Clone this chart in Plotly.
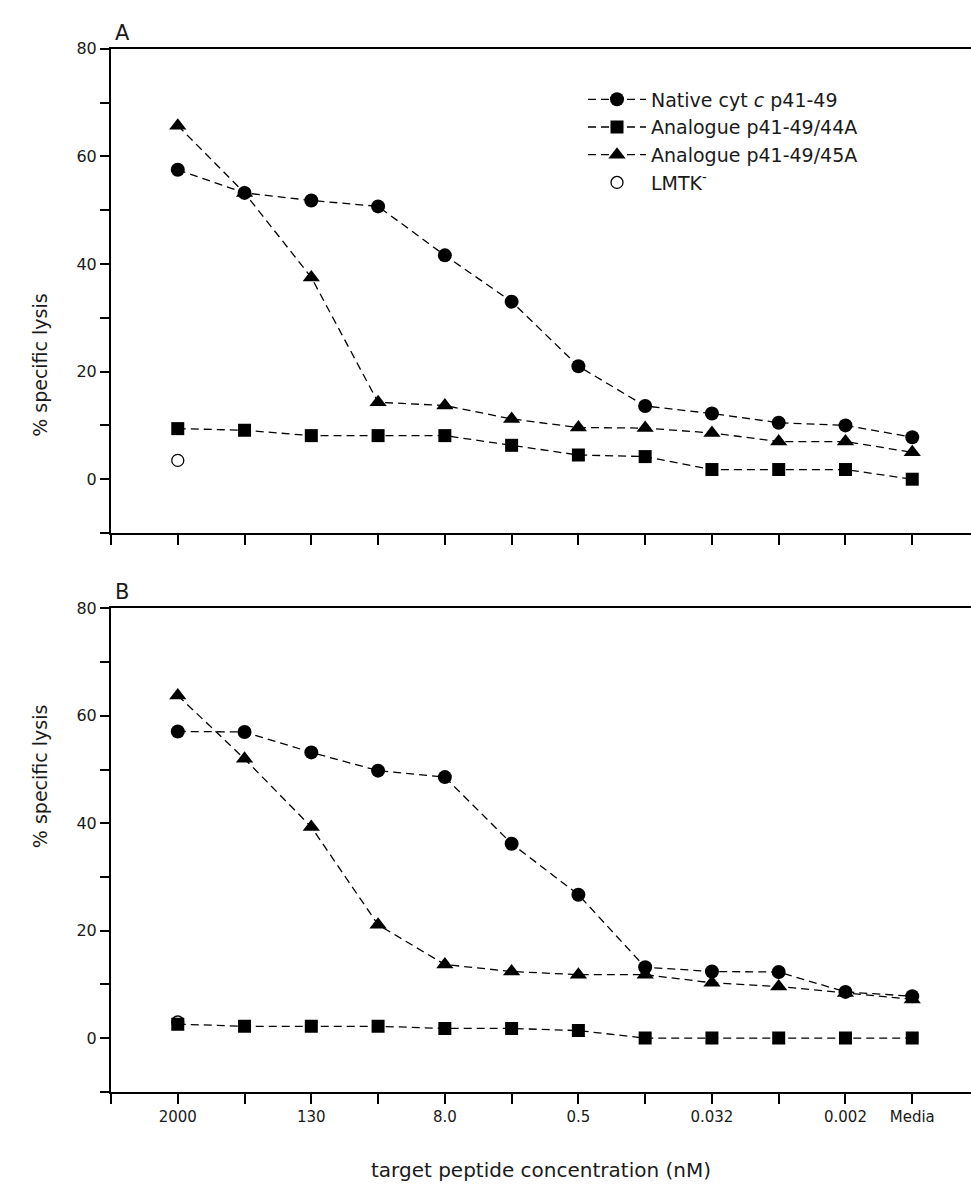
import plotly.graph_objects as go

# Categories (4-fold dilutions of target peptide, nM)
categories = ["2000", "500", "130", "32", "8.0", "2.0", "0.5", "0.12", "0.032", "0.008", "0.002", "Media"]
labelled_idx = [0, 2, 4, 6, 8, 10, 11]
y_ticks = [0, 20, 40, 60, 80]

# Panel A
a_native = [57.5, 53.2, 51.8, 50.7, 41.6, 33.0, 21.0, 13.6, 12.2, 10.5, 10.0, 7.8]
a_44A = [9.4, 9.1, 8.1, 8.1, 8.1, 6.3, 4.5, 4.2, 1.8, 1.8, 1.8, 0.0]
a_45A = [65.7, 53.2, 37.5, 14.3, 13.7, 11.2, 9.6, 9.5, 8.6, 7.0, 7.0, 5.0]
a_lmtk = [3.5]

# Panel B
b_native = [57.1, 57.0, 53.2, 49.8, 48.6, 36.2, 26.7, 13.2, 12.4, 12.3, 8.6, 7.8]
b_44A = [2.6, 2.2, 2.2, 2.2, 1.8, 1.8, 1.4, 0.0, 0.0, 0.0, 0.0, 0.0]
b_45A = [63.8, 52.0, 39.3, 21.1, 13.7, 12.4, 11.8, 11.8, 10.3, 9.6, 8.4, 7.2]
b_lmtk = [3.0]

series_names = ["Native cyt <i>c</i> p41-49", "Analogue p41-49/44A", "Analogue p41-49/45A", "LMTK<sup>-</sup>"]

x = list(range(len(categories)))
FONT = "DejaVu Sans, Arial, sans-serif"
TXT = "#1a1a1a"
DASH = "8px,5px"

fig = go.Figure()

def add_panel(native, s44, s45, lmtk, xa, ya, show):
    fig.add_trace(go.Scatter(x=x, y=native, mode="lines+markers", name=series_names[0],
                             line=dict(color="black", width=1.3, dash=DASH),
                             marker=dict(symbol="circle", size=14, color="black"),
                             xaxis=xa, yaxis=ya, showlegend=show, legendrank=1))
    fig.add_trace(go.Scatter(x=x, y=s44, mode="lines+markers", name=series_names[1],
                             line=dict(color="black", width=1.3, dash=DASH),
                             marker=dict(symbol="square", size=13, color="black"),
                             xaxis=xa, yaxis=ya, showlegend=show, legendrank=2))
    fig.add_trace(go.Scatter(x=x, y=s45, mode="lines+markers", name=series_names[2],
                             line=dict(color="black", width=1.3, dash=DASH),
                             marker=dict(symbol="triangle-up", size=15, color="black"),
                             xaxis=xa, yaxis=ya, showlegend=show, legendrank=3))
    fig.add_trace(go.Scatter(x=x[:len(lmtk)], y=lmtk, mode="markers", name=series_names[3],
                             marker=dict(symbol="circle-open", size=12, color="black",
                                         line=dict(width=1.3, color="black")),
                             xaxis=xa, yaxis=ya, showlegend=show, legendrank=4))

add_panel(a_native, a_44A, a_45A, a_lmtk, "x", "y", True)
add_panel(b_native, b_44A, b_45A, b_lmtk, "x2", "y2", False)

H = 1197.0
W = 971.0
x_dom = [111 / W, 1.0]
a_dom = [1 - 528 / H, 1 - 40 / H]
b_dom = [1 - 1091 / H, 1 - 604 / H]

xcommon = dict(range=[-1, 11.88], tickmode="array",
               tickvals=[x[i] for i in labelled_idx],
               ticktext=[categories[i] for i in labelled_idx],
               ticks="outside", ticklen=10, tickwidth=1.5, tickcolor="black",
               minor=dict(tick0=-1, dtick=1, ticks="outside", ticklen=10, tickwidth=1.5, tickcolor="black"),
               showline=True, linecolor="black", linewidth=2, mirror=True,
               showgrid=False, zeroline=False, domain=x_dom,
               tickfont=dict(family=FONT, size=15, color=TXT))
ycommon = dict(range=[-10, 80], tickmode="array", tickvals=y_ticks,
               ticks="outside", ticklen=9, tickwidth=1.5, tickcolor="black",
               minor=dict(dtick=10, tick0=0, ticks="outside", ticklen=9, tickwidth=1.5, tickcolor="black"),
               showline=True, linecolor="black", linewidth=2,
               showgrid=False, zeroline=False,
               tickfont=dict(family=FONT, size=16, color=TXT))

fig.update_layout(
    width=971, height=1197,
    margin=dict(l=0, r=0, t=0, b=0),
    paper_bgcolor="white", plot_bgcolor="white",
    font=dict(family=FONT, color=TXT),
    xaxis=dict(**xcommon, anchor="y", showticklabels=False),
    yaxis=dict(**ycommon, domain=a_dom, anchor="x"),
    xaxis2=dict(**xcommon, anchor="y2"),
    yaxis2=dict(**ycommon, domain=b_dom, anchor="x2"),
    legend=dict(x=583 / W, y=1 - 72 / H, xanchor="left", yanchor="top",
                font=dict(family=FONT, size=19, color=TXT),
                bgcolor="rgba(0,0,0,0)", itemwidth=58, tracegroupgap=0),
    showlegend=True,
)

annotations = [
    dict(text="A", x=113 / W, y=1 - 38 / H, xref="paper", yref="paper", xanchor="left", yanchor="bottom",
         showarrow=False, font=dict(family=FONT, size=21, color=TXT)),
    dict(text="B", x=113 / W, y=1 - 602 / H, xref="paper", yref="paper", xanchor="left", yanchor="bottom",
         showarrow=False, font=dict(family=FONT, size=21, color=TXT)),
    dict(text="% specific lysis", x=27 / W, y=sum(a_dom) / 2, xref="paper", yref="paper",
         textangle=-90, showarrow=False, font=dict(family=FONT, size=19, color=TXT)),
    dict(text="% specific lysis", x=27 / W, y=sum(b_dom) / 2, xref="paper", yref="paper",
         textangle=-90, showarrow=False, font=dict(family=FONT, size=19, color=TXT)),
    dict(text="target peptide concentration (nM)", x=(111 + 971) / 2 / W, y=1 - 1184 / H,
         xref="paper", yref="paper", showarrow=False, font=dict(family=FONT, size=20, color=TXT)),
]
fig.update_layout(annotations=annotations)

fig.write_html("out.html")
